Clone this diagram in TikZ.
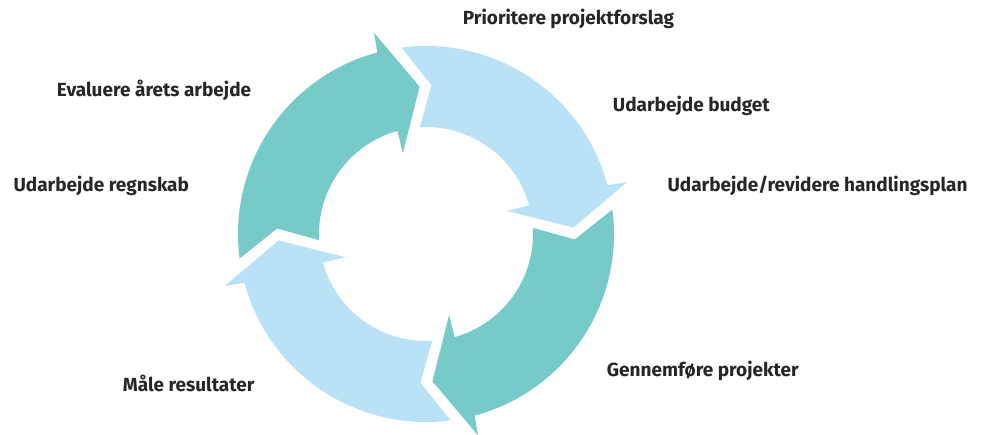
\documentclass[tikz,border=0pt]{standalone}
\usepackage{fontspec}
\setmainfont{Fira Sans}
\usepackage{tikz}
\usepackage{xcolor}
\usetikzlibrary{positioning}

\definecolor{teal}{HTML}{76CAC7}
\definecolor{lightblue}{HTML}{B9E2F7}

% one arrow of the cycle: #1 = angle of its tail, #2 = colour
\newcommand{\cyclearrow}[2]{%
\fill [#2] (#1:188) arc[start angle=#1, end angle=#1-82.5, radius=188]
  -- (#1-83:208) -- (#1-95:147.5) -- (#1-81.5:84) -- (#1-82:107)
  arc[start angle=#1-82, end angle=#1-4.2, radius=107]
  -- (#1-9.6:149) -- cycle;}

\begin{document}
\begin{tikzpicture}[x=1pt,y=-1pt]
\tikzstyle{every node}+=[inner sep=0pt]
\tikzset{steplabel/.style={anchor=base west, font=\fontsize{19}{19}\selectfont\bfseries, text=black!85}}
\useasboundingbox (0,0) rectangle (981,434);
\begin{scope}[shift={(426,234)},yscale=-1]
\cyclearrow{187.5}{teal}
\cyclearrow{97.5}{lightblue}
\cyclearrow{7.5}{teal}
\cyclearrow{-82.5}{lightblue}
\end{scope}
\node [steplabel] (prioritere) at (462.7,24) {Prioritere projektforslag};
\node [steplabel] (budget) at (612.7,111) {Udarbejde budget};
\node [steplabel] (handlingsplan) at (667.3,191) {Udarbejde/revidere handlingsplan};
\node [steplabel] (gennemfoere) at (606.7,376) {Gennemføre projekter};
\node [steplabel] (maale) at (122.7,391) {Måle resultater};
\node [steplabel] (regnskab) at (13.3,191) {Udarbejde regnskab};
\node [steplabel] (evaluere) at (56.7,96) {Evaluere årets arbejde};
\end{tikzpicture}
\end{document}
